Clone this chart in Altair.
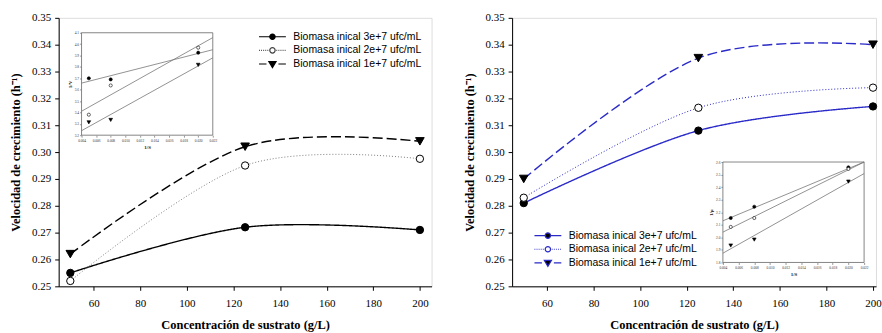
import altair as alt
import pandas as pd

# ---- data -------------------------------------------------------------
sustrato = [50, 125, 200]
series = [
    "Biomasa inical 3e+7 ufc/mL",
    "Biomasa inical 2e+7 ufc/mL",
    "Biomasa inical 1e+7 ufc/mL",
]

# growth rate (h^-1), first assay
mu_a_3e7 = [0.255, 0.272, 0.271]
mu_a_2e7 = [0.252, 0.295, 0.2975]
mu_a_1e7 = [0.262, 0.302, 0.304]
# growth rate (h^-1), second assay
mu_b_3e7 = [0.281, 0.308, 0.317]
mu_b_2e7 = [0.283, 0.3165, 0.324]
mu_b_1e7 = [0.290, 0.335, 0.340]

# Lineweaver-Burk insets
inv_s = [0.005, 0.008, 0.020]
inv_v_a_3e7 = [3.70, 3.69, 3.925]
inv_v_a_2e7 = [3.38, 3.637, 3.969]
inv_v_a_1e7 = [3.313, 3.334, 3.818]
inv_mu_b_3e7 = [2.154, 2.244, 2.558]
inv_mu_b_2e7 = [2.083, 2.154, 2.545]
inv_mu_b_1e7 = [1.935, 1.982, 2.444]

x_ticks = [60, 80, 100, 120, 140, 160, 180, 200]
y_ticks = [0.25, 0.26, 0.27, 0.28, 0.29, 0.30, 0.31, 0.32, 0.33, 0.34, 0.35]
inset_x_ticks = [0.004, 0.006, 0.008, 0.010, 0.012, 0.014, 0.016, 0.018, 0.020, 0.022]
inset_y_ticks_a = [3.2, 3.3, 3.4, 3.5, 3.6, 3.7, 3.8, 3.9, 4.0, 4.1]
inset_y_ticks_b = [1.8, 1.9, 2.0, 2.1, 2.2, 2.3, 2.4, 2.5, 2.6]

# ---- styles -----------------------------------------------------------
SERIF = "Liberation Serif"
SANS = "Liberation Sans"
BLUE = "#2a2ac8"

shapes = ["circle", "circle", "triangle-down"]
fills = ["black", "white", "black"]
sizes = [55, 55, 75]
dashes = [[1, 0], [1, 2], [10, 4]]
widths = [1.4, 1.0, 1.4]
inset_sizes = [10, 10, 14]


# legend glyphs: line sample with the marker in its middle (1 unit = 6 px)
def _dots(a, b, step=0.35, length=0.15):
    out, x = "", a
    while x + length <= b + 1e-9:
        out += f"M{x:.2f},0H{x + length:.2f}"
        x += step
    return out


_CIRC = "M0.45,0A0.45,0.45,0,1,1,-0.45,0A0.45,0.45,0,1,1,0.45,0Z"
_TRI = "M-0.6,-0.4L0.6,-0.4L0,0.6Z"
LEG_SYMBOLS = [
    "M-2.25,0H-0.45M0.45,0H2.25" + _CIRC,
    _dots(-2.25, -0.6) + _dots(0.65, 2.25) + _CIRC,
    "M-2.25,0H-1.0M1.0,0H2.25" + _TRI,
]


def main_axes(xmax):
    x = alt.X(
        "S:Q",
        scale=alt.Scale(domain=[45, xmax], nice=False, zero=False),
        axis=alt.Axis(values=x_ticks, title="Concentración de sustrato (g/L)",
                      labelFont=SERIF, labelFontSize=11, titleFont=SERIF,
                      titleFontSize=12.5, titleFontWeight="bold", titlePadding=10,
                      tickSize=4, labelPadding=7, grid=False, labelOverlap=False,
                      domainColor="black", tickColor="black", labelColor="black",
                      titleColor="black", labelFlush=False),
    )
    y = alt.Y(
        "mu:Q",
        scale=alt.Scale(domain=[0.25, 0.35], nice=False, zero=False),
        axis=alt.Axis(values=y_ticks, format=".2f",
                      title="Velocidad de crecimiento (h⁻¹)",
                      labelFont=SERIF, labelFontSize=11, titleFont=SERIF,
                      titleFontSize=12.5, titleFontWeight="bold", titlePadding=9,
                      tickSize=4, labelPadding=4, grid=False, labelOverlap=False,
                      domainColor="black", tickColor="black", labelColor="black",
                      titleColor="black", labelFlush=False),
    )
    return x, y


def inset_axes(xrange, yrange, ydomain, yticks, ytitle, height):
    ax_common = dict(labelFont=SERIF, labelFontSize=3.5, titleFont=SERIF,
                     titleFontSize=5, titleFontWeight="bold", tickSize=2,
                     tickWidth=0.6, tickColor="#555", labelColor="#333",
                     titleColor="#222", grid=False, domain=False,
                     labelOverlap=False, labelFlush=False, labelPadding=1)
    x = alt.Scale(domain=[0.004, 0.022], range=xrange, nice=False, zero=False)
    y = alt.Scale(domain=ydomain, range=yrange, nice=False, zero=False, clamp=True)
    ax_x = alt.Axis(orient="bottom", offset=yrange[0] - height, values=inset_x_ticks,
                    format=".3f", title="1/S", titlePadding=3, **ax_common)
    ax_y = alt.Axis(orient="left", offset=-xrange[0], values=yticks,
                    format=".1f", title=ytitle, titlePadding=2, **ax_common)
    return x, y, ax_x, ax_y


def panel(mu_sets, xmax, width, line_colors, leg_colors, leg_xy, inv_sets, ydomain,
          yticks, ytitle, xrange, yrange):
    height = 270
    x_enc, y_enc = main_axes(xmax)

    layers = []
    for i, vals in enumerate(mu_sets):
        df = pd.DataFrame({"S": sustrato, "mu": vals})
        layers.append(
            alt.Chart(df).mark_line(interpolate="cardinal", strokeDash=dashes[i],
                                    color=line_colors[i], strokeWidth=widths[i])
            .encode(x=x_enc, y=y_enc)
        )
    for i, vals in enumerate(mu_sets):
        df = pd.DataFrame({"S": sustrato, "mu": vals})
        layers.append(
            alt.Chart(df).mark_point(shape=shapes[i], filled=True, fill=fills[i],
                                     stroke="black", strokeWidth=1, size=sizes[i],
                                     opacity=1)
            .encode(x=x_enc, y=y_enc)
        )
    main = alt.layer(*layers)

    # legend built from the scales only (no visible marks of its own)
    leg_df = pd.DataFrame({"serie": series})
    lx, ly = leg_xy
    leg = alt.Legend(orient="none", legendX=lx, legendY=ly, title=None,
                     labelFont=SANS, labelFontSize=10.5, labelColor="black",
                     symbolSize=144, symbolStrokeWidth=1.2, labelOffset=14,
                     rowPadding=0.7, padding=0)
    legend_layer = (
        alt.Chart(leg_df).transform_filter("false")
        .mark_point(filled=True, size=144, opacity=1, strokeWidth=1.2)
        .encode(
            shape=alt.Shape("serie:N", scale=alt.Scale(domain=series, range=LEG_SYMBOLS),
                            legend=leg),
            fill=alt.Fill("serie:N", scale=alt.Scale(domain=series, range=fills),
                          legend=leg),
            stroke=alt.Stroke("serie:N", scale=alt.Scale(domain=series, range=leg_colors),
                              legend=leg),
        )
    )

    # inset: 1/rate versus 1/S with fitted lines
    sx, sy, ax_x, ax_y = inset_axes(xrange, yrange, ydomain, yticks, ytitle, height)
    frame_df = pd.DataFrame({"x0": [sx.domain[0]], "x1": [sx.domain[1]],
                             "y0": [ydomain[0]], "y1": [ydomain[1]]})
    frame = alt.Chart(frame_df).mark_rect(fill="white", stroke="#666", strokeWidth=0.8).encode(
        x=alt.X("x0:Q", scale=sx, axis=ax_x), x2="x1",
        y=alt.Y("y0:Q", scale=sy, axis=ax_y), y2="y1",
    )
    inv_df = pd.concat([
        pd.DataFrame({"inv_s": inv_s, "inv": vals, "serie": series[i]})
        for i, vals in enumerate(inv_sets)
    ])
    reg = (
        alt.Chart(inv_df)
        .transform_regression("inv_s", "inv", groupby=["serie"], extent=[0.004, 0.022])
        .mark_line(color="#777", strokeWidth=0.8)
        .encode(x=alt.X("inv_s:Q", scale=sx, axis=ax_x),
                y=alt.Y("inv:Q", scale=sy, axis=ax_y), detail="serie:N")
    )
    ipts = []
    for i, vals in enumerate(inv_sets):
        df = pd.DataFrame({"inv_s": inv_s, "inv": vals})
        ipts.append(
            alt.Chart(df).mark_point(shape=shapes[i], filled=True, fill=fills[i],
                                     stroke="black", strokeWidth=0.6,
                                     size=inset_sizes[i], opacity=1)
            .encode(x=alt.X("inv_s:Q", scale=sx, axis=ax_x),
                    y=alt.Y("inv:Q", scale=sy, axis=ax_y))
        )
    inset = alt.layer(frame, reg, *ipts)

    return (
        alt.layer(main, legend_layer, inset)
        .resolve_scale(x="independent", y="independent")
        .properties(width=width, height=height)
    )


left = panel(
    [mu_a_3e7, mu_a_2e7, mu_a_1e7], 205, 375,
    ["black", "#808080", "black"], ["black", "#444", "black"], (208, 12),
    [inv_v_a_3e7, inv_v_a_2e7, inv_v_a_1e7], [3.2, 4.1], inset_y_ticks_a, "1/V",
    [23, 155], [118, 15],
)
right = panel(
    [mu_b_3e7, mu_b_2e7, mu_b_1e7], 201.3, 366,
    [BLUE, BLUE, BLUE], [BLUE, BLUE, BLUE], (29, 212),
    [inv_mu_b_3e7, inv_mu_b_2e7, inv_mu_b_1e7], [1.8, 2.6], inset_y_ticks_b, "1/µ",
    [212, 354], [246, 145],
)

chart = (
    alt.hconcat(left, right, spacing=30)
    .resolve_scale(stroke="independent", shape="independent", fill="independent")
    .properties(padding={"left": 9, "top": 10, "right": 0, "bottom": 0})
    .configure_view(stroke="black", strokeWidth=1)
    .configure(background="white")
)

chart.save("out.html", embed_options={"renderer": "svg", "actions": False})
